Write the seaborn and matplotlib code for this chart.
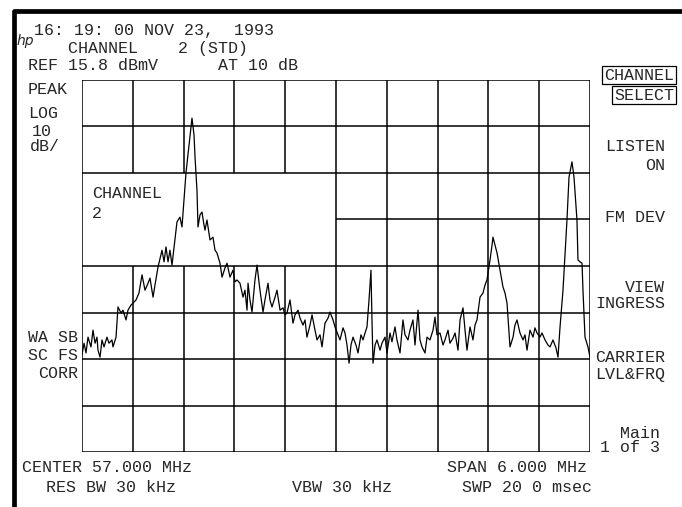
import matplotlib
matplotlib.use("Agg")
import matplotlib.pyplot as plt
import seaborn as sns
import pandas as pd
from matplotlib.lines import Line2D

# trace (MHz, dBmV)
freq_mhz = [
    54.000, 54.024, 54.047, 54.071, 54.106, 54.130, 54.154, 54.177, 54.189, 54.213,
    54.236, 54.260, 54.295, 54.319, 54.354, 54.366, 54.402, 54.425, 54.461, 54.484,
    54.520, 54.543, 54.579, 54.602, 54.638, 54.673, 54.709, 54.744, 54.780, 54.803,
    54.839, 54.862, 54.898, 54.945, 54.969, 54.992, 55.016, 55.039, 55.063, 55.098,
    55.122, 55.157, 55.181, 55.205, 55.228, 55.264, 55.299, 55.323, 55.335, 55.358,
    55.370, 55.394, 55.417, 55.441, 55.453, 55.476, 55.512, 55.547, 55.571, 55.594,
    55.630, 55.654, 55.689, 55.713, 55.748, 55.783, 55.807, 55.831, 55.866, 55.902,
    55.925, 55.949, 55.961, 55.984, 56.008, 56.043, 56.067, 56.102, 56.138, 56.161,
    56.197, 56.220, 56.244, 56.280, 56.303, 56.339, 56.374, 56.398, 56.421, 56.457,
    56.492, 56.516, 56.551, 56.575, 56.610, 56.634, 56.657, 56.693, 56.717, 56.752,
    56.776, 56.811, 56.835, 56.870, 56.906, 56.929, 56.965, 56.988, 57.024, 57.047,
    57.083, 57.106, 57.130, 57.154, 57.177, 57.201, 57.236, 57.260, 57.295, 57.319,
    57.343, 57.366, 57.390, 57.413, 57.425, 57.437, 57.461, 57.484, 57.520, 57.543,
    57.579, 57.602, 57.638, 57.661, 57.697, 57.720, 57.756, 57.791, 57.815, 57.850,
    57.874, 57.909, 57.933, 57.969, 57.992, 58.016, 58.051, 58.075, 58.110, 58.146,
    58.169, 58.193, 58.228, 58.264, 58.287, 58.323, 58.346, 58.382, 58.406, 58.441,
    58.465, 58.500, 58.524, 58.547, 58.583, 58.618, 58.642, 58.665, 58.701, 58.736,
    58.760, 58.783, 58.819, 58.843, 58.854, 58.878, 58.902, 58.937, 58.972, 58.996,
    59.020, 59.055, 59.091, 59.114, 59.138, 59.173, 59.209, 59.232, 59.256, 59.291,
    59.327, 59.350, 59.374, 59.409, 59.433, 59.469, 59.504, 59.528, 59.563, 59.598,
    59.622, 59.646, 59.681, 59.705, 59.728, 59.752, 59.787, 59.811, 59.846, 59.858,
    59.882, 59.906, 59.917, 59.941, 59.976, 60.000,
]
level_dbmv = [
    -43.3, -40.8, -42.9, -39.5, -41.6, -38.0, -40.8, -39.5, -42.3, -43.8,
    -40.1, -41.6, -39.5, -40.8, -40.1, -41.6, -39.5, -33.0, -34.3, -33.7,
    -35.8, -33.7, -32.6, -32.2, -31.5, -30.0, -26.1, -29.4, -27.9, -26.8,
    -30.9, -28.3, -24.4, -20.8, -23.3, -20.1, -23.3, -20.8, -24.0, -18.6,
    -14.7, -13.7, -15.8, -10.0, -4.2, 1.8, 7.6, 4.0, -0.8, -7.9,
    -15.8, -13.2, -12.6, -15.4, -16.5, -14.3, -18.6, -18.0, -20.8, -21.4,
    -23.6, -26.6, -24.6, -23.6, -26.6, -25.1, -27.6, -27.2, -27.9, -30.9,
    -29.4, -33.7, -27.9, -31.5, -34.1, -27.2, -24.0, -29.4, -34.1, -31.5,
    -27.9, -31.5, -33.0, -30.9, -29.4, -33.7, -33.2, -34.7, -34.3, -31.5,
    -36.5, -34.7, -33.7, -35.4, -36.9, -35.8, -39.5, -36.9, -34.7, -38.0,
    -40.1, -39.0, -41.6, -36.5, -35.4, -34.1, -35.8, -37.3, -39.0, -40.1,
    -37.5, -38.6, -41.2, -45.1, -41.2, -39.5, -41.2, -42.9, -39.0, -40.1,
    -38.6, -37.3, -31.5, -25.1, -35.8, -45.1, -41.2, -40.1, -42.3, -40.8,
    -39.5, -42.9, -38.6, -40.5, -37.3, -40.1, -42.9, -35.8, -39.0, -40.1,
    -38.0, -35.8, -41.2, -33.7, -40.1, -41.6, -42.9, -39.5, -40.1, -38.0,
    -35.2, -39.0, -38.6, -41.2, -40.1, -38.0, -40.8, -39.7, -38.6, -42.3,
    -35.8, -33.2, -38.0, -42.3, -37.3, -40.1, -36.9, -35.8, -30.9, -30.0,
    -28.3, -27.2, -22.9, -19.7, -18.0, -19.7, -21.4, -25.1, -28.7, -30.0,
    -32.2, -41.6, -39.5, -36.9, -35.8, -38.6, -40.1, -39.0, -42.3, -38.0,
    -39.5, -37.5, -38.6, -39.5, -38.6, -40.1, -41.2, -41.6, -40.1, -41.8,
    -43.8, -37.3, -29.4, -21.8, -14.3, -5.1, -1.8, -5.1, -14.3, -22.9,
    -23.3, -23.6, -29.4, -39.5, -41.6, -43.8,
]

ref_level = 15.8
db_per_div = 10
n_rows = 8
start_mhz = 54.0
stop_mhz = 60.0
n_cols = 10

softkeys = [
    ("LISTEN", 147), ("ON", 165), ("FM DEV", 218), ("VIEW", 287),
    ("INGRESS", 303), ("CARRIER", 357), ("LVL&FRQ", 375),
]

W, H = 682, 507

sns.set_style("white")
plt.rcParams['font.family'] = ['Liberation Mono', 'DejaVu Sans Mono']

fig = plt.figure(figsize=(W / 100, H / 100), dpi=100)
ax = fig.add_axes([82 / W, 1 - 452 / H, 508 / W, 372 / H])

bottom = ref_level - n_rows * db_per_div
rows = [ref_level - k * db_per_div for k in range(n_rows + 1)]
step = (stop_mhz - start_mhz) / n_cols
cols = [start_mhz + k * step for k in range(n_cols + 1)]

# graticule, with the blank box behind the "CHANNEL 2" label
grid_kw = dict(color='black', lw=1.1, zorder=1)
for k, y in enumerate(rows):
    if k == 3:
        ax.hlines(y, cols[5], stop_mhz, **grid_kw)
    else:
        ax.hlines(y, start_mhz, stop_mhz, **grid_kw)
for k, x in enumerate(cols):
    if 1 <= k <= 4:
        ax.vlines(x, rows[2], ref_level, **grid_kw)
        ax.vlines(x, bottom, rows[4], **grid_kw)
    else:
        ax.vlines(x, bottom, ref_level, **grid_kw)

df = pd.DataFrame({'freq': freq_mhz, 'level': level_dbmv})
sns.lineplot(data=df, x='freq', y='level', color='black', lw=0.9,
             estimator=None, sort=False, ax=ax, zorder=3)

ax.set_xlim(start_mhz, stop_mhz)
ax.set_ylim(bottom, ref_level)
ax.set_xticks([])
ax.set_yticks([])
ax.set_xlabel("")
ax.set_ylabel("")
for sp in ax.spines.values():
    sp.set_visible(False)


def put(x, y, s, ha='left', size=12, **kw):
    fig.text(x / W, 1 - y / H, s, ha=ha, va='center', fontsize=size, **kw)


put(34, 31, "16: 19: 00 NOV 23,  1993")
put(17, 41, "hp", size=10, style='italic', family='DejaVu Sans')
put(68, 48, "CHANNEL    2 (STD)")
put(28, 65, "REF 15.8 dBmV      AT 10 dB")
put(28, 90, "PEAK")
put(28, 113, "LOG")
put(32, 131, "10")
put(30, 147, "dB/")
put(92, 193, "CHANNEL")
put(92, 214, "2")
put(78, 338, "WA SB", ha='right')
put(78, 356, "SC FS", ha='right')
put(78, 373, "CORR", ha='right')

box = dict(boxstyle='square,pad=0.1', fc='white', ec='black', lw=0.9)
put(674, 75, "CHANNEL", ha='right', bbox=box)
put(674, 95, "SELECT", ha='right', bbox=box)
for label, y in softkeys:
    put(665, y, label, ha='right')
put(660, 433, "Main", ha='right')
put(660, 448, "1 of 3", ha='right')

put(22, 468, "CENTER 57.000 MHz")
put(46, 487, "RES BW 30 kHz")
put(292, 487, "VBW 30 kHz")
put(447, 468, "SPAN 6.000 MHz")
put(462, 487, "SWP 20 0 msec")

# instrument bezel edge
fig.add_artist(Line2D([14 / W, 14 / W, 1], [0, 1 - 11 / H, 1 - 11 / H],
                      transform=fig.transFigure, color='black', lw=3.4,
                      solid_joinstyle='round', solid_capstyle='butt'))

fig.savefig("out.png", dpi=100)
